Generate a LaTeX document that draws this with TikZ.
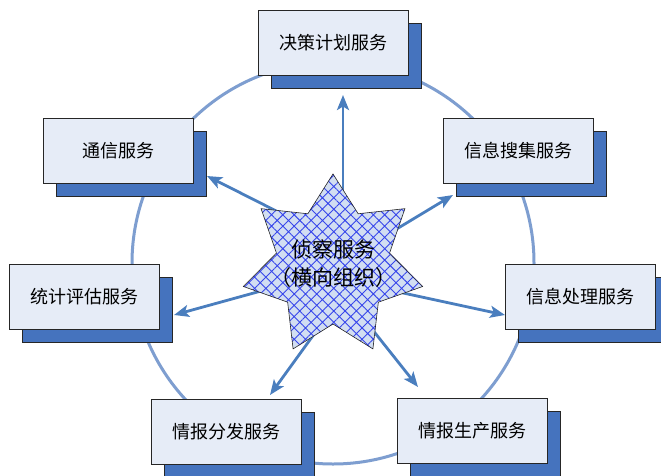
\documentclass[tikz,border=0pt]{standalone}
\usepackage{fontspec}
\newfontfamily\cjk{Noto Sans CJK SC}
\usetikzlibrary{arrows.meta,patterns.meta,shadows}
\definecolor{boxfill}{RGB}{230,236,247}
\definecolor{shadowblue}{RGB}{69,115,190}
\definecolor{arrowblue}{RGB}{74,126,190}
\definecolor{ringblue}{RGB}{126,158,208}
\definecolor{starfill}{RGB}{210,222,242}
\definecolor{hatch}{RGB}{55,70,235}
\tikzset{
  svc/.style={draw=black!85, line width=0.8pt, fill=boxfill,
    minimum width=150pt, minimum height=65pt, inner sep=0pt,
    font=\cjk\fontsize{18}{21}\selectfont,
    drop shadow={shadow xshift=13pt, shadow yshift=-13pt, opacity=1,
      fill=shadowblue, draw=black!85, line width=0.8pt}},
  flow/.style={draw=arrowblue, line width=2.8pt,
    -{Stealth[length=15pt,width=12pt,inset=3.5pt]}},
  ring/.style={draw=ringblue, line width=3pt},
  starshape/.style={draw=black!85, line width=0.6pt,
    preaction={fill=starfill},
    preaction={pattern={Hatch[angle=45,distance=8pt,line width=0.9pt]}, pattern color=hatch}},
}
\begin{document}
\begin{tikzpicture}[x=1pt,y=-1pt]
\useasboundingbox (0,0) rectangle (661,475);
% ring
\draw[ring] (333,263) circle[radius=201];
% arrow coordinates
\coordinate (s1) at (343,195);  \coordinate (e1) at (343,95);
\coordinate (s2) at (300,223);  \coordinate (e2) at (207,176);
\coordinate (s3) at (380,239);  \coordinate (e3) at (453,195);
\coordinate (s4) at (290,283);  \coordinate (e4) at (174,315);
\coordinate (s5) at (380,288);  \coordinate (e5) at (505,315);
\coordinate (s6) at (325,319);  \coordinate (e6) at (270,395);
\coordinate (s7) at (360,314);  \coordinate (e7) at (418,387);
\foreach \i in {1,...,7}{\draw[flow] (s\i) -- (e\i);}
% star
\begin{scope}[shift={(333,266)}]
\path[starshape] (-90:92)
  \foreach \k in {0,...,6}{ -- ({-90+\k*360/7}:92) -- ({-90+(\k+0.5)*360/7}:58) } -- cycle;
\end{scope}
\node[font=\cjk\fontsize{21}{28}\selectfont, align=center, inner sep=0pt] (hub) at (333,264) {侦察服务\\（横向组织）};
% service boxes
\node[svc] (plan) at (333,42.5) {决策计划服务};
\node[svc] (comm) at (118,150.5) {通信服务};
\node[svc] (collect) at (518,150.5) {信息搜集服务};
\node[svc] (eval) at (84,297) {统计评估服务};
\node[svc] (proc) at (580.5,296.5) {信息处理服务};
\node[svc] (dist) at (226,431.5) {情报分发服务};
\node[svc] (prod) at (472.5,431) {情报生产服务};
\end{tikzpicture}
\end{document}
